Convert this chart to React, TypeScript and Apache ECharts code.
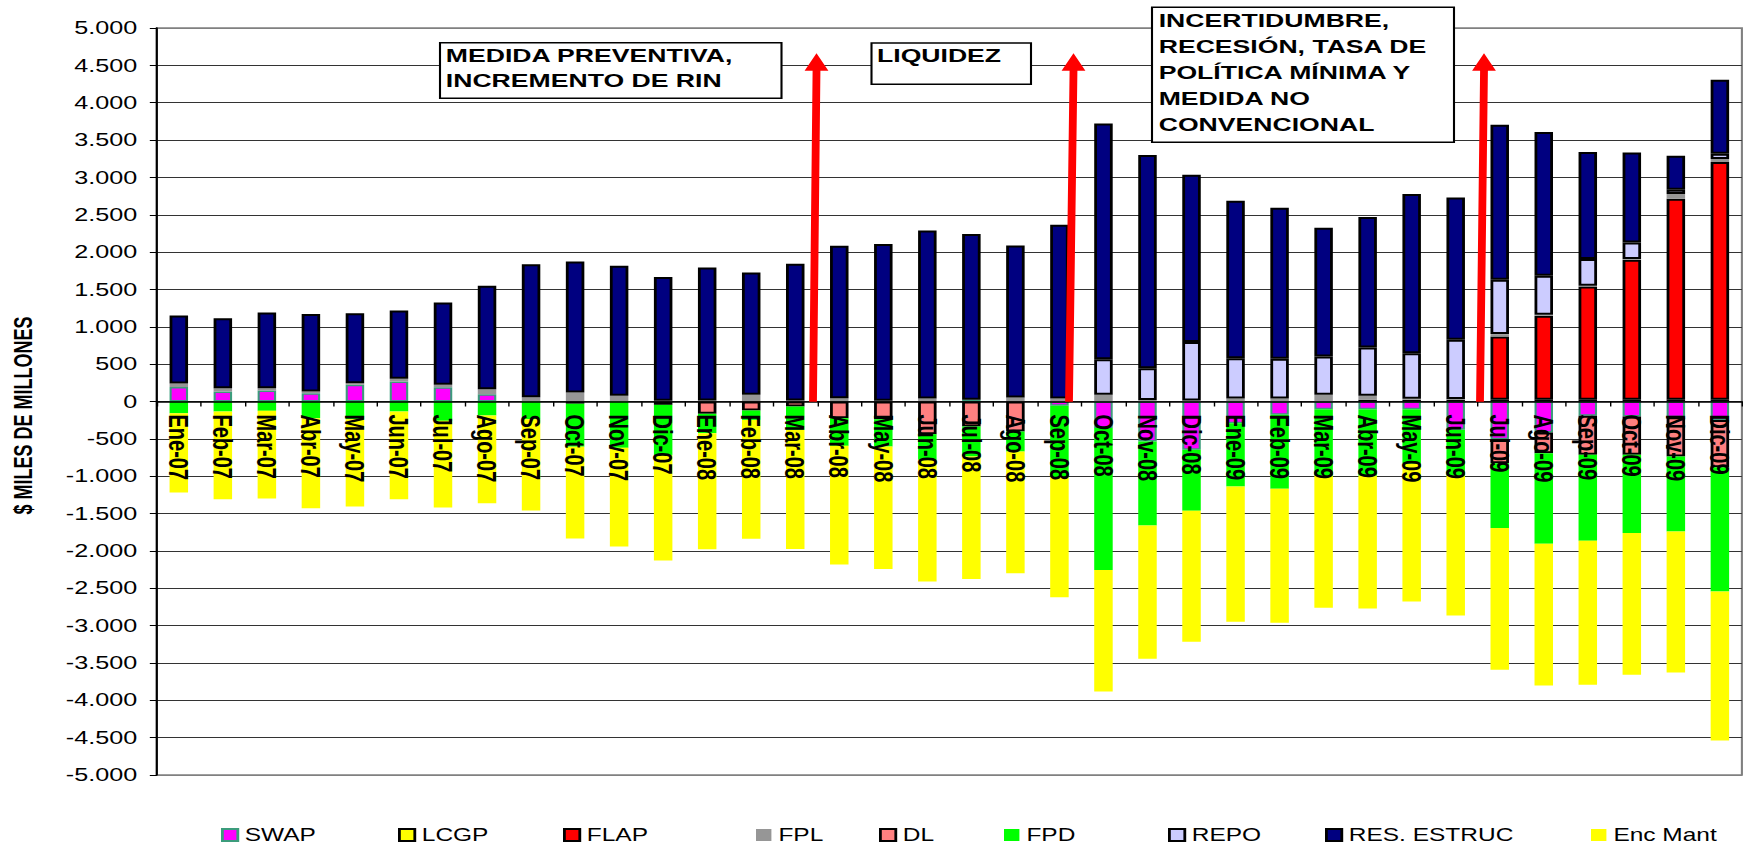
import React, { useEffect, useRef } from "react";
import * as echarts from "echarts";

// ---------- data ----------
const categories = [
  "Ene-07", "Feb-07", "Mar-07", "Abr-07", "May-07", "Jun-07", "Jul-07", "Ago-07", "Sep-07", "Oct-07", "Nov-07", "Dic-07",
  "Ene-08", "Feb-08", "Mar-08", "Abr-08", "May-08", "Jun-08", "Jul-08", "Ago-08", "Sep-08", "Oct-08", "Nov-08", "Dic-08",
  "Ene-09", "Feb-09", "Mar-09", "Abr-09", "May-09", "Jun-09", "Jul-09", "Ago-09", "Sep-09", "Oct-09", "Nov-09", "Dic-09",
];

const swap = [
  195, 134, 147, 112, 223, 268, 192, 98, 0, 0, 0, 0,
  0, 0, 0, 0, 0, 0, 25, 0, -58, -355, -536, -647,
  -290, -179, -103, -103, -103, -379, -504, -415, -192, -201, -210, -246,
];
const lcgp = [
  0, 0, 0, 0, 0, 0, 0, 0, 0, 0, 0, 0,
  0, 0, 0, 0, 0, 0, 0, 0, 0, 0, 0, 0,
  0, 0, 0, 22, 22, 25, 22, 22, 22, 22, 22, 22,
];
const flap = [
  0, 0, 0, 0, 0, 0, 0, 0, 0, 0, 0, 0,
  0, 0, 0, 0, 0, 0, 0, 0, 0, 0, 0, 0,
  0, 0, 0, 0, 0, 0, 848, 1125, 1518, 1875, 2692, 3183,
];
const fpl = [
  45, 45, 31, 22, 22, 36, 31, 67, 58, 120, 76, 10,
  15, 89, 15, 45, 10, 40, 0, 55, 40, 90, 20, 15,
  40, 40, 89, 55, 15, 10, 32, 14, 10, 9, 63, 40,
];
const dl = [
  0, 0, 0, 0, 0, 0, 0, 0, 0, -30, 0, -45,
  -165, -120, -67, -223, -237, -437, -335, -402, 0, 0, 0, 0,
  0, 0, 0, 0, 0, 0, -322, -277, -522, -513, -527, -633,
];
const fpd = [
  -156, -134, -125, -223, -237, -134, -259, -187, -237, -575, -620, -670,
  -259, -126, -313, -371, -366, -344, -402, -268, -955, -1900, -1124, -816,
  -848, -990, -892, -892, -731, -616, -869, -1213, -1151, -1048, -1003, -1665,
];
const repo = [
  0, 0, 0, 0, 0, 0, 0, 0, 0, 0, 0, 0,
  0, 0, 0, 0, 0, 0, 0, 0, 0, 477, 426, 780,
  540, 531, 514, 646, 610, 791, 727, 522, 357, 223, 58, 72,
];
const resEstruc = [
  910, 937, 1014, 1036, 938, 915, 1103, 1384, 1781, 1755, 1741, 1655,
  1780, 1639, 1829, 2040, 2097, 2250, 2216, 2034, 2326, 3156, 2853, 2241,
  2107, 2023, 1723, 1746, 2130, 1906, 2076, 1924, 1433, 1206, 455, 991,
];
const encMant = [
  -1063, -1174, -1174, -1205, -1169, -1174, -1161, -1175, -1223, -1230, -1322, -1414,
  -1554, -1593, -1593, -1589, -1638, -1630, -1638, -1629, -1607, -1627, -1784, -1754,
  -1811, -1793, -1767, -1776, -1843, -1870, -1897, -1897, -1928, -1897, -1888, -1994,
];

const yMin = -5000;
const yMax = 5000;
const yInterval = 500;

const annotations = [
  "MEDIDA PREVENTIVA,\nINCREMENTO DE RIN",
  "LIQUIDEZ",
  "INCERTIDUMBRE,\nRECESIÓN, TASA DE\nPOLÍTICA MÍNIMA Y\nMEDIDA NO\nCONVENCIONAL",
];

// ---------- layout ----------
const STRETCH = 1.4; // the reference is horizontally stretched
const W = 1744 / STRETCH;
const H = 845;
const GRID_TOP = 28;
const GRID_BOTTOM_Y = 775;
const FONT = '"Liberation Sans", Arial, Helvetica, sans-serif';
const sx = (x: number) => x / STRETCH;

const seriesDefs = [
  { name: "SWAP", data: swap, color: "#FF00FF", border: "#3C9C7C", bw: 1.5 },
  { name: "LCGP", data: lcgp, color: "#FFFF00", border: "#000000", bw: 1.5 },
  { name: "FLAP", data: flap, color: "#FF0000", border: "#000000", bw: 2 },
  { name: "FPL", data: fpl, color: "#969696", border: null, bw: 0 },
  { name: "DL", data: dl, color: "#FF8080", border: "#000000", bw: 2 },
  { name: "FPD", data: fpd, color: "#00FF00", border: null, bw: 0 },
  { name: "REPO", data: repo, color: "#CCCCFF", border: "#000000", bw: 2 },
  { name: "RES. ESTRUC", data: resEstruc, color: "#000080", border: "#000000", bw: 2 },
  { name: "Enc Mant", data: encMant, color: "#FFFF00", border: null, bw: 0 },
];
const legendLeft = [221, 398, 563, 756, 879, 1004, 1168, 1325, 1591];

const fmt = (v: number) => {
  const s = Math.abs(v).toString().replace(/\B(?=(\d{3})+(?!\d))/g, ".");
  return (v < 0 ? "-" : "") + s;
};

function arrow(xBottom: number, xTop: number) {
  const half = 3.9;
  const headHalf = 11.9;
  const yB = 401.7;
  const yBase = 70.7;
  const yTip = 53.3;
  const pts = [
    [xBottom - half, yB],
    [xBottom + half, yB],
    [xTop + half, yBase],
    [xTop + headHalf, yBase],
    [xTop, yTip],
    [xTop - headHalf, yBase],
    [xTop - half, yBase],
  ].map(([x, y]) => [sx(x), y]);
  return {
    type: "polygon",
    z: 100,
    shape: { points: pts },
    style: { fill: "#FF0000", stroke: "none" },
  };
}

function box(x0: number, y0: number, x1: number, y1: number, tx: number, ty: number, text: string, lh: number) {
  return [
    {
      type: "rect",
      z: 100,
      shape: { x: sx(x0), y: y0, width: sx(x1) - sx(x0), height: y1 - y0 },
      style: { fill: "#FFFFFF", stroke: "#000000", lineWidth: 1.5 },
    },
    {
      type: "text",
      z: 101,
      x: sx(tx),
      y: ty,
      style: {
        text,
        fill: "#000000",
        fontFamily: FONT,
        fontWeight: "bold",
        fontSize: 19,
        lineHeight: lh,
        align: "left",
        verticalAlign: "top",
      },
    },
  ];
}

export default function App() {
  const ref = useRef<HTMLDivElement>(null);

  useEffect(() => {
    document.documentElement.style.overflow = "hidden";
    document.body.style.overflow = "hidden";
    if (!ref.current) return;
    const chart = echarts.init(ref.current, undefined, { renderer: "svg" });

    const nTicks = Math.round((yMax - yMin) / yInterval) + 1;
    const splitColors = Array.from({ length: nTicks }, (_, i) =>
      i === 0 || i === nTicks - 1 ? "#808080" : "#333333"
    );
    // distance from the bottom of the plot to the zero line
    const zeroOffset = ((0 - yMin) / (yMax - yMin)) * (GRID_BOTTOM_Y - GRID_TOP);

    chart.setOption({
      animation: false,
      backgroundColor: "#FFFFFF",
      grid: {
        left: sx(155),
        right: sx(1744 - 1741.5),
        top: GRID_TOP,
        bottom: H - GRID_BOTTOM_Y,
        show: true,
        borderColor: "#808080",
        borderWidth: 1.5,
        backgroundColor: "transparent",
      },
      legend: seriesDefs.map((s, i) => ({
        data: [s.name],
        left: sx(legendLeft[i]),
        top: 826,
        padding: 0,
        itemGap: 0,
        itemWidth: 11,
        itemHeight: 12,
        icon: "rect",
        selectedMode: false,
        textStyle: { fontSize: 17.5, fontFamily: FONT, color: "#000000", lineHeight: 18 },
      })),
      xAxis: {
        type: "category",
        data: categories,
        z: 5,
        position: "bottom",
        offset: -zeroOffset,
        axisLine: { onZero: false, lineStyle: { color: "#000000", width: 1.5 } },
        axisTick: { show: true, length: 5, lineStyle: { color: "#000000", width: 1 } },
        axisLabel: {
          interval: 0,
          rotate: -90,
          fontSize: 20,
          fontWeight: "bold",
          color: "#000000",
          fontFamily: FONT,
          margin: 13,
        },
        splitLine: { show: false },
      },
      yAxis: {
        type: "value",
        min: yMin,
        max: yMax,
        interval: yInterval,
        name: "$ MILES DE MILLONES",
        nameLocation: "middle",
        nameGap: 86,
        nameTextStyle: {
          fontSize: 18,
          fontWeight: "bold",
          color: "#000000",
          fontFamily: FONT,
          padding: [0, 28, 0, 0],
        },
        axisLine: { show: true, lineStyle: { color: "#000000", width: 1.5 } },
        axisTick: { show: true, length: 5, lineStyle: { color: "#000000", width: 1 } },
        axisLabel: { fontSize: 18, color: "#000000", fontFamily: FONT, margin: 14, formatter: fmt },
        splitLine: { show: true, lineStyle: { color: splitColors, width: 1 } },
      },
      series: seriesDefs.map((s) => ({
        name: s.name,
        type: "bar",
        stack: "total",
        barWidth: "42%",
        data: s.data.map((v) => (v === 0 ? null : v)),
        itemStyle: {
          color: s.color,
          borderColor: s.border || s.color,
          borderWidth: s.bw,
        },
        emphasis: { disabled: true },
      })),
      graphic: {
        elements: [
          ...box(440, 42.7, 781.5, 98.3, 445.8, 43.3, annotations[0], 25),
          ...box(871.5, 43, 1031, 84.3, 877, 43.3, annotations[1], 25),
          ...box(1152, 7.3, 1454, 142.3, 1158.7, 7.9, annotations[2], 25.8),
          arrow(813, 816.5),
          arrow(1069, 1073.5),
          arrow(1480, 1484),
        ],
      },
    });

    return () => {
      chart.dispose();
    };
  }, []);

  return (
    <div
      ref={ref}
      style={{
        position: "absolute",
        left: 0,
        top: 0,
        width: W + "px",
        height: H + "px",
        transform: `scaleX(${STRETCH})`,
        transformOrigin: "0 0",
        background: "#FFFFFF",
      }}
    />
  );
}
